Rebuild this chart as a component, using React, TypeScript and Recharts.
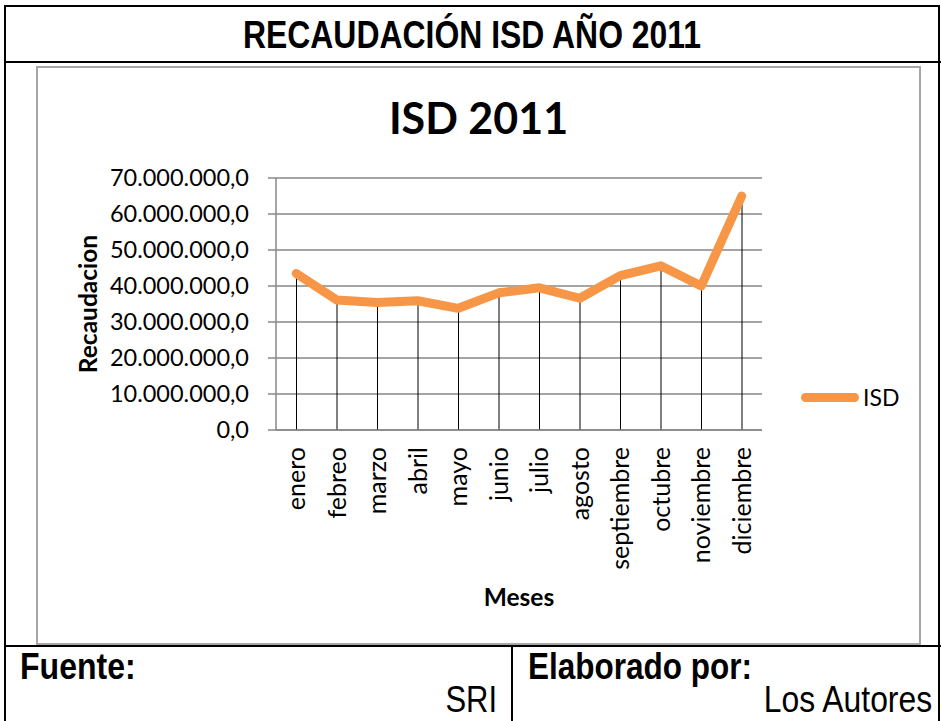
import { Bar, CartesianGrid, ComposedChart, Legend, Line, XAxis, YAxis } from 'recharts';

const months = [
  'enero',
  'febreo',
  'marzo',
  'abril',
  'mayo',
  'junio',
  'julio',
  'agosto',
  'septiembre',
  'octubre',
  'noviembre',
  'diciembre',
];

// recaudacion mensual ISD
const isdValues = [
  43500000, 36100000, 35400000, 35900000, 33800000, 38100000, 39500000, 36600000, 42900000,
  45600000, 40000000, 65000000,
];

const yTicks = [0, 10000000, 20000000, 30000000, 40000000, 50000000, 60000000, 70000000];
const yTickLabels = [
  '0,0',
  '10.000.000,0',
  '20.000.000,0',
  '30.000.000,0',
  '40.000.000,0',
  '50.000.000,0',
  '60.000.000,0',
  '70.000.000,0',
];

const data = months.map((mes, i) => ({ mes, isd: isdValues[i] }));

const orange = '#F79646';
const grid = '#878787';
const chartFont = 'Lato, "Open Sans", sans-serif';
const tableFont = '"Liberation Sans", Arial, sans-serif';

const MonthTick = ({ x, y, payload }: any) => (
  <text
    x={x}
    y={y}
    transform={`rotate(-90, ${x}, ${y})`}
    textAnchor="end"
    dy="0.36em"
    fontSize={25}
    fontFamily={chartFont}
    fill="#000"
  >
    {payload.value}
  </text>
);

const YTitle = ({ viewBox }: any) => {
  const x = viewBox.x - 29;
  const y = viewBox.y + viewBox.height / 2;
  return (
    <text
      x={x}
      y={y}
      transform={`rotate(-90, ${x}, ${y})`}
      textAnchor="middle"
      fontSize={24.5}
      fontWeight="bold"
      fontFamily={chartFont}
      fill="#000"
    >
      Recaudacion
    </text>
  );
};

const XTitle = ({ viewBox }: any) => (
  <text
    x={viewBox.x + viewBox.width / 2}
    y={viewBox.y + 176}
    textAnchor="middle"
    fontSize={24.5}
    fontWeight="bold"
    fontFamily={chartFont}
    fill="#000"
  >
    Meses
  </text>
);

const LegendContent = () => (
  <div style={{ display: 'flex', alignItems: 'center', fontFamily: chartFont, fontSize: 23 }}>
    <span
      style={{ display: 'inline-block', width: 58, height: 9, borderRadius: 5, background: orange }}
    />
    <span style={{ marginLeft: 4, color: '#000' }}>ISD</span>
  </div>
);

const cellText = (bold: boolean, scale: number): React.CSSProperties => ({
  position: 'absolute',
  fontFamily: tableFont,
  fontWeight: bold ? 'bold' : 'normal',
  fontSize: 36,
  lineHeight: '30px',
  whiteSpace: 'nowrap',
  transform: `scaleX(${scale})`,
});

const App = () => (
  <div
    style={{
      position: 'absolute',
      left: 0,
      top: 0,
      width: 941,
      height: 721,
      background: '#fff',
      overflow: 'hidden',
    }}
  >
    {/* marco de la tabla */}
    <div
      style={{
        position: 'absolute',
        left: 4,
        top: 5,
        width: 936,
        height: 720,
        borderLeft: '2px solid #000',
        borderTop: '2px solid #000',
        borderRight: '2px solid #000',
        boxSizing: 'border-box',
      }}
    />
    <div style={{ position: 'absolute', left: 4, top: 61, width: 937, height: 2, background: '#000' }} />
    <div style={{ position: 'absolute', left: 4, top: 645, width: 937, height: 2, background: '#000' }} />
    <div style={{ position: 'absolute', left: 511, top: 646, width: 2, height: 80, background: '#000' }} />

    <div
      style={{
        position: 'absolute',
        left: 4,
        top: 16,
        width: 936,
        textAlign: 'center',
        fontFamily: tableFont,
        fontWeight: 'bold',
        fontSize: 38,
        lineHeight: '38px',
        transform: 'scaleX(0.84)',
      }}
    >
      RECAUDACIÓN ISD AÑO 2011
    </div>

    <div
      style={{
        position: 'absolute',
        left: 36,
        top: 66,
        width: 885,
        height: 579,
        border: '2px solid #a6a6a6',
        boxSizing: 'border-box',
      }}
    >
      <div
        style={{
          position: 'absolute',
          left: 0,
          top: 28,
          width: '100%',
          textAlign: 'center',
          fontFamily: chartFont,
          fontWeight: 'bold',
          fontSize: 43,
          lineHeight: '43px',
        }}
      >
        ISD 2011
      </div>
      <ComposedChart
        width={881}
        height={575}
        data={data}
        margin={{ top: 110, right: 157, left: 88, bottom: 83 }}
      >
        <CartesianGrid vertical={false} stroke={grid} strokeWidth={1.5} />
        <XAxis
          dataKey="mes"
          height={130}
          interval={0}
          tickLine={false}
          tickSize={0}
          tickMargin={17}
          axisLine={{ stroke: grid, strokeWidth: 1.5 }}
          tick={<MonthTick />}
          label={<XTitle />}
        />
        <YAxis
          width={150}
          domain={[0, 70000000]}
          ticks={yTicks}
          interval={0}
          tickSize={8}
          tickMargin={19}
          tickLine={{ stroke: grid, strokeWidth: 1.5 }}
          axisLine={{ stroke: grid, strokeWidth: 1.5 }}
          tick={{ fill: '#000', fontSize: 23.5, fontFamily: chartFont }}
          tickFormatter={(v: number) => yTickLabels[yTicks.indexOf(v)]}
          label={<YTitle />}
        />
        <Bar dataKey="isd" barSize={1} fill="#000" legendType="none" isAnimationActive={false} />
        <Line
          type="linear"
          dataKey="isd"
          name="ISD"
          stroke={orange}
          strokeWidth={9}
          strokeLinecap="round"
          strokeLinejoin="round"
          dot={false}
          activeDot={false}
          isAnimationActive={false}
        />
        <Legend
          layout="horizontal"
          verticalAlign="middle"
          align="center"
          content={<LegendContent />}
          wrapperStyle={{ left: 763, top: 315, width: 'auto', height: 'auto' }}
        />
      </ComposedChart>
    </div>

    <div style={{ ...cellText(true, 0.89), left: 20, top: 652, transformOrigin: 'left center' }}>
      Fuente:
    </div>
    <div style={{ ...cellText(false, 0.86), right: 444, top: 685, transformOrigin: 'right center' }}>
      SRI
    </div>
    <div style={{ ...cellText(true, 0.875), left: 528, top: 652, transformOrigin: 'left center' }}>
      Elaborado por:
    </div>
    <div style={{ ...cellText(false, 0.885), right: 9, top: 685, transformOrigin: 'right center' }}>
      Los Autores
    </div>
  </div>
);

export default App;
